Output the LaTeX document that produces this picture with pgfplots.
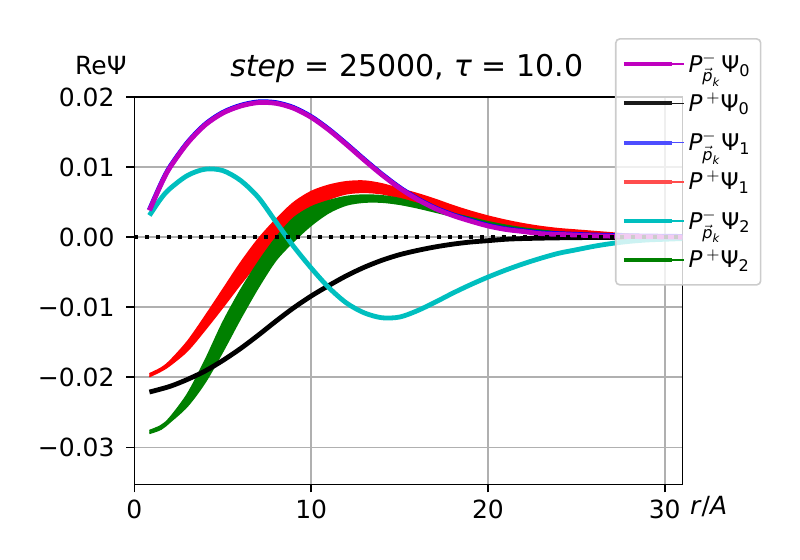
\documentclass[border=0pt]{standalone}
\usepackage{fontspec}
\setmainfont{DejaVu Sans}
\usepackage{amsmath}
\usepackage{pgfplots}
\pgfplotsset{compat=1.18}
\definecolor{mplmag}{RGB}{191,0,191}
\definecolor{mplcyan}{RGB}{0,191,191}
\definecolor{mplgreen}{RGB}{0,128,0}
\definecolor{gridgray}{RGB}{176,176,176}
\definecolor{legblue}{RGB}{77,77,255}
\definecolor{legred}{RGB}{255,77,77}
\definecolor{legblack}{RGB}{26,26,26}
\definecolor{legframe}{RGB}{204,204,204}
\newcommand{\Pm}{\textit{P}$^{-}_{\vec{\textit{p}}_{\textit{k}}}$}
\newcommand{\Pp}{\textit{P}\,$^{+}$}
\begin{document}
\begin{tikzpicture}
\useasboundingbox (-67.2pt,-37.75pt) rectangle (332.8pt,242.25pt);
\begin{axis}[
  at={(0pt,0pt)}, anchor=south west,
  scale only axis, width=274pt, height=193.75pt,
  xmin=0, xmax=31, ymin=-0.03529, ymax=0.02,
  xtick={0,10,20,30}, xticklabels={0,10,20,30},
  ytick={-0.03,-0.02,-0.01,0,0.01,0.02},
  yticklabels={−0.03,−0.02,−0.01,0.00,0.01,0.02},
  scaled y ticks=false,
  tick align=outside, tick pos=left, major tick length=4pt,
  grid=major, major grid style={gridgray, line width=0.83pt},
  axis line style={line width=0.83pt},
  every tick/.style={black, line width=0.83pt},
  ticklabel style={font=\fontsize{12.5}{15}\selectfont},
  yticklabel style={xshift=-2.4pt},
  every axis title shift=0pt,
  title={\textit{step} = 25000, \textit{τ} = 10.0},
  title style={at={(0.497,1.052)}, anchor=base, font=\fontsize{15}{18}\selectfont},
  xlabel={\textit{r}/\textit{A}},
  xlabel style={at={(1.048,-0.0769)}, anchor=base, font=\fontsize{12.5}{15}\selectfont},
  ylabel={ReΨ},
  ylabel style={at={(-0.0613,1.057)}, anchor=base, rotate=-90, font=\fontsize{12.5}{15}\selectfont},
  legend style={at={(0.877,1.152)}, anchor=north west, draw=legframe, line width=0.8pt,
    fill=white, fill opacity=0.8, text opacity=1, draw opacity=1, rounded corners=2pt,
    font=\fontsize{11.5}{13}\selectfont, row sep=4.6pt, inner xsep=3pt, inner ysep=5pt},
  legend cell align=left,
  legend image code/.code={\draw[#1, line width=2pt] (-1pt,0pt) -- (23pt,0pt); \path (0pt,0pt) -- (29pt,0pt);},
]
\addlegendimage{mplmag}\addlegendentry{\Pm Ψ$_{\text{0}}$}
\addlegendimage{legblack}\addlegendentry{\Pp Ψ$_{\text{0}}$}
\addlegendimage{legblue}\addlegendentry{\Pm Ψ$_{\text{1}}$}
\addlegendimage{legred}\addlegendentry{\Pp Ψ$_{\text{1}}$}
\addlegendimage{mplcyan}\addlegendentry{\Pm Ψ$_{\text{2}}$}
\addlegendimage{mplgreen}\addlegendentry{\Pp Ψ$_{\text{2}}$}

% red band (P+ Psi1): upper edge then lower edge reversed
\addplot[smooth, draw=red, fill=red, line width=0.8pt, line join=round, forget plot] coordinates {
(0.85,-0.0195) (1.5,-0.0187) (2,-0.0177) (3,-0.0149) (4,-0.0113) (5,-0.0075) (6,-0.0037) (7,-0.0003) (8,0.0025) (9,0.0049) (10,0.0065) (11,0.0074) (12,0.0079) (13,0.0080) (14,0.0076) (15,0.0069) (16,0.0062) (17,0.0054) (18,0.0045) (19,0.0037) (20,0.0030) (21,0.0024) (22,0.0019) (23,0.0015) (24,0.0012) (25,0.0010) (26,0.0008) (27,0.0006) (28,0.0004) (29,0.0003) (30,0.0002) (31,0.0001)
(31,0.0000) (30,0.0001) (29,0.0002) (28,0.0003) (27,0.0004) (26,0.0005) (25,0.0006) (24,0.0008) (23,0.0011) (22,0.0014) (21,0.0018) (20,0.0023) (19,0.0028) (18,0.0035) (17,0.0042) (16,0.0049) (15,0.0056) (14,0.0062) (13,0.0064) (12,0.0062) (11,0.0054) (10,0.0040) (9,0.0020) (8,-0.0008) (7,-0.0036) (6,-0.0067) (5,-0.0100) (4,-0.0132) (3,-0.0162) (2,-0.0183) (1.5,-0.0191) (0.85,-0.0199)
};
% green band (P+ Psi2)
\addplot[smooth, draw=mplgreen, fill=mplgreen, line width=0.8pt, line join=round, forget plot] coordinates {
(0.85,-0.0276) (1.5,-0.0269) (2,-0.0258) (3,-0.0224) (4,-0.0176) (5,-0.0122) (6,-0.0076) (7,-0.0036) (8,-0.0001) (9,0.0027) (10,0.0043) (11,0.0052) (12,0.0058) (13,0.0060) (14,0.0059) (15,0.0055) (16,0.0048) (17,0.0041) (18,0.0034) (19,0.0028) (20,0.0022) (21,0.0017) (22,0.0013) (23,0.0010) (24,0.0007) (25,0.0005) (26,0.0004) (27,0.0003) (28,0.0002) (29,0.0001) (30,0.0001) (31,0.0000)
(31,0.0000) (30,0.0001) (29,0.0001) (28,0.0002) (27,0.0003) (26,0.0004) (25,0.0005) (24,0.0007) (23,0.0009) (22,0.0012) (21,0.0016) (20,0.0020) (19,0.0025) (18,0.0030) (17,0.0036) (16,0.0042) (15,0.0047) (14,0.0050) (13,0.0050) (12,0.0046) (11,0.0035) (10,0.0017) (9,-0.0006) (8,-0.0033) (7,-0.0072) (6,-0.0116) (5,-0.0163) (4,-0.0207) (3,-0.0241) (2,-0.0264) (1.5,-0.0274) (0.85,-0.0280)
};
% black (P+ Psi0)
\addplot[smooth, black, line width=2.4pt, forget plot] coordinates {
(0.85,-0.0221) (2,-0.0213) (3,-0.0203) (4,-0.0191) (5,-0.0176) (6,-0.0159) (7,-0.0140) (8,-0.0120) (9,-0.0101) (10,-0.0084) (11,-0.0069) (12,-0.0055) (13,-0.0043) (14,-0.0033) (15,-0.0025) (16,-0.0019) (17,-0.0014) (18,-0.0010) (19,-0.0007) (20,-0.0005) (21,-0.0003) (22,-0.0002) (24,-0.0001) (27,-0.00003) (31,0.0)
};
% cyan (P- Psi2)
\addplot[smooth, mplcyan, line width=2.4pt, forget plot] coordinates {
(0.85,0.0031) (1.5,0.0055) (2,0.0069) (3,0.0088) (4,0.0097) (5,0.0095) (6,0.0081) (7,0.0057) (8,0.0022) (9,-0.0013) (10,-0.0044) (11,-0.0072) (12,-0.0094) (13,-0.0108) (14,-0.0115) (15,-0.0114) (16,-0.0105) (17,-0.0093) (18,-0.0080) (19,-0.0068) (20,-0.0057) (21,-0.0047) (22,-0.0038) (23,-0.0030) (24,-0.0023) (25,-0.0018) (26,-0.0013) (27,-0.0009) (28,-0.0006) (29,-0.0004) (30,-0.0003) (31,-0.0002)
};
% blue (P- Psi1)
\addplot[smooth, blue, line width=2.4pt, forget plot] coordinates {
(0.85,0.0039) (1.5,0.0076) (2,0.0100) (3,0.0135) (4,0.0161) (5,0.0178) (6,0.0188) (7,0.0193) (8,0.0192) (9,0.0185) (10,0.0172) (11,0.0154) (12,0.0133) (13,0.0111) (14,0.0090) (15,0.0071) (16,0.0055) (17,0.0042) (18,0.0032) (19,0.0024) (20,0.0017) (21,0.0012) (22,0.0009) (23,0.0006) (24,0.0005) (25,0.0004) (26,0.0003) (28,0.0002) (31,0.0001)
};
% magenta (P- Psi0)
\addplot[smooth, mplmag, line width=2.4pt, forget plot] coordinates {
(0.85,0.0038) (1.5,0.0075) (2,0.0099) (3,0.0134) (4,0.0160) (5,0.0177) (6,0.0187) (7,0.0192) (8,0.0191) (9,0.0184) (10,0.0171) (11,0.0153) (12,0.0132) (13,0.0110) (14,0.0089) (15,0.0070) (16,0.0054) (17,0.0041) (18,0.0031) (19,0.0023) (20,0.0016) (21,0.0011) (22,0.0008) (23,0.0005) (24,0.0004) (25,0.0003) (26,0.0002) (28,0.0001) (31,0.0000)
};
% dotted zero line
\addplot[black, line width=2pt, dash pattern=on 2pt off 3.4pt, forget plot] coordinates {(0,0) (31,0)};
\end{axis}
\end{tikzpicture}
\end{document}
